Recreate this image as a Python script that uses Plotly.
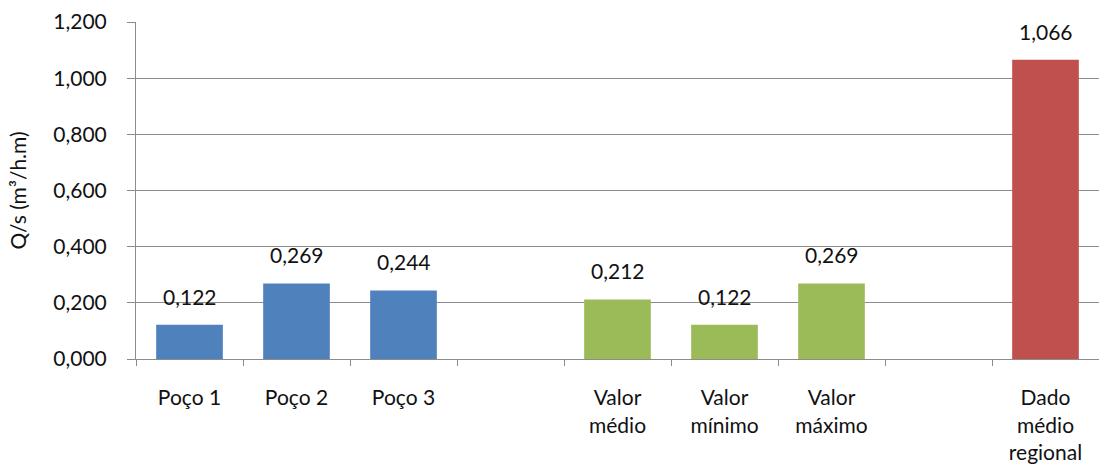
import plotly.graph_objects as go

# Category axis (blank entries leave gaps between the groups)
categories = ["Poço 1", "Poço 2", "Poço 3", " ",
              "Valor<br>médio", "Valor<br>mínimo", "Valor<br>máximo", "  ",
              "Dado<br>médio<br>regional"]

# Specific capacity, Q/s (m³/h.m)
wells = ["Poço 1", "Poço 2", "Poço 3"]
well_values = [0.122, 0.269, 0.244]

stats = ["Valor<br>médio", "Valor<br>mínimo", "Valor<br>máximo"]
stat_values = [0.212, 0.122, 0.269]

regional = ["Dado<br>médio<br>regional"]
regional_values = [1.066]

y_ticks = [0, 0.2, 0.4, 0.6, 0.8, 1.0, 1.2]

FONT = "Lato"
TXT = 21
INK = "#111111"
GRID = "#8c8c8c"

fig = go.Figure()
for xs, ys, color in [(wells, well_values, "#4F81BD"),
                      (stats, stat_values, "#9BBB59"),
                      (regional, regional_values, "#C0504D")]:
    fig.add_trace(go.Bar(
        x=xs, y=ys, marker=dict(color=color, line=dict(width=0)),
        showlegend=False, hoverinfo="x+y",
    ))
    # value labels sitting above each bar
    for xv, yv in zip(xs, ys):
        fig.add_annotation(
            x=xv, y=yv, text=f"{yv:.3f}".replace(".", ","),
            showarrow=False, yanchor="bottom", yshift=14,
            font=dict(family=FONT, size=TXT, color=INK),
        )

fig.update_layout(
    width=1099, height=470,
    margin=dict(l=136, r=0, t=22, b=111),
    paper_bgcolor="white", plot_bgcolor="white",
    separators=",.",
    barmode="overlay", bargap=0.377,
    font=dict(family=FONT, size=TXT, color=INK),
    xaxis=dict(
        type="category", categoryorder="array", categoryarray=categories,
        range=[-0.5, len(categories) - 0.5],
        showline=True, linecolor=GRID, linewidth=1,
        ticks="outside", tickson="boundaries", ticklen=6, tickcolor=GRID,
        ticklabelstandoff=20,
        showgrid=False,
    ),
    yaxis=dict(
        range=[0, 1.2], tickvals=y_ticks, tickformat=".3f",
        showgrid=True, gridcolor=GRID, gridwidth=1,
        showline=True, linecolor=GRID, linewidth=1,
        ticks="outside", ticklen=8, tickcolor=GRID,
        ticklabelstandoff=16, zeroline=False,
        title=dict(text="Q/s (m³/h.m)", standoff=20,
                   font=dict(family=FONT, size=TXT, color=INK)),
    ),
)

fig.write_html("out.html")
